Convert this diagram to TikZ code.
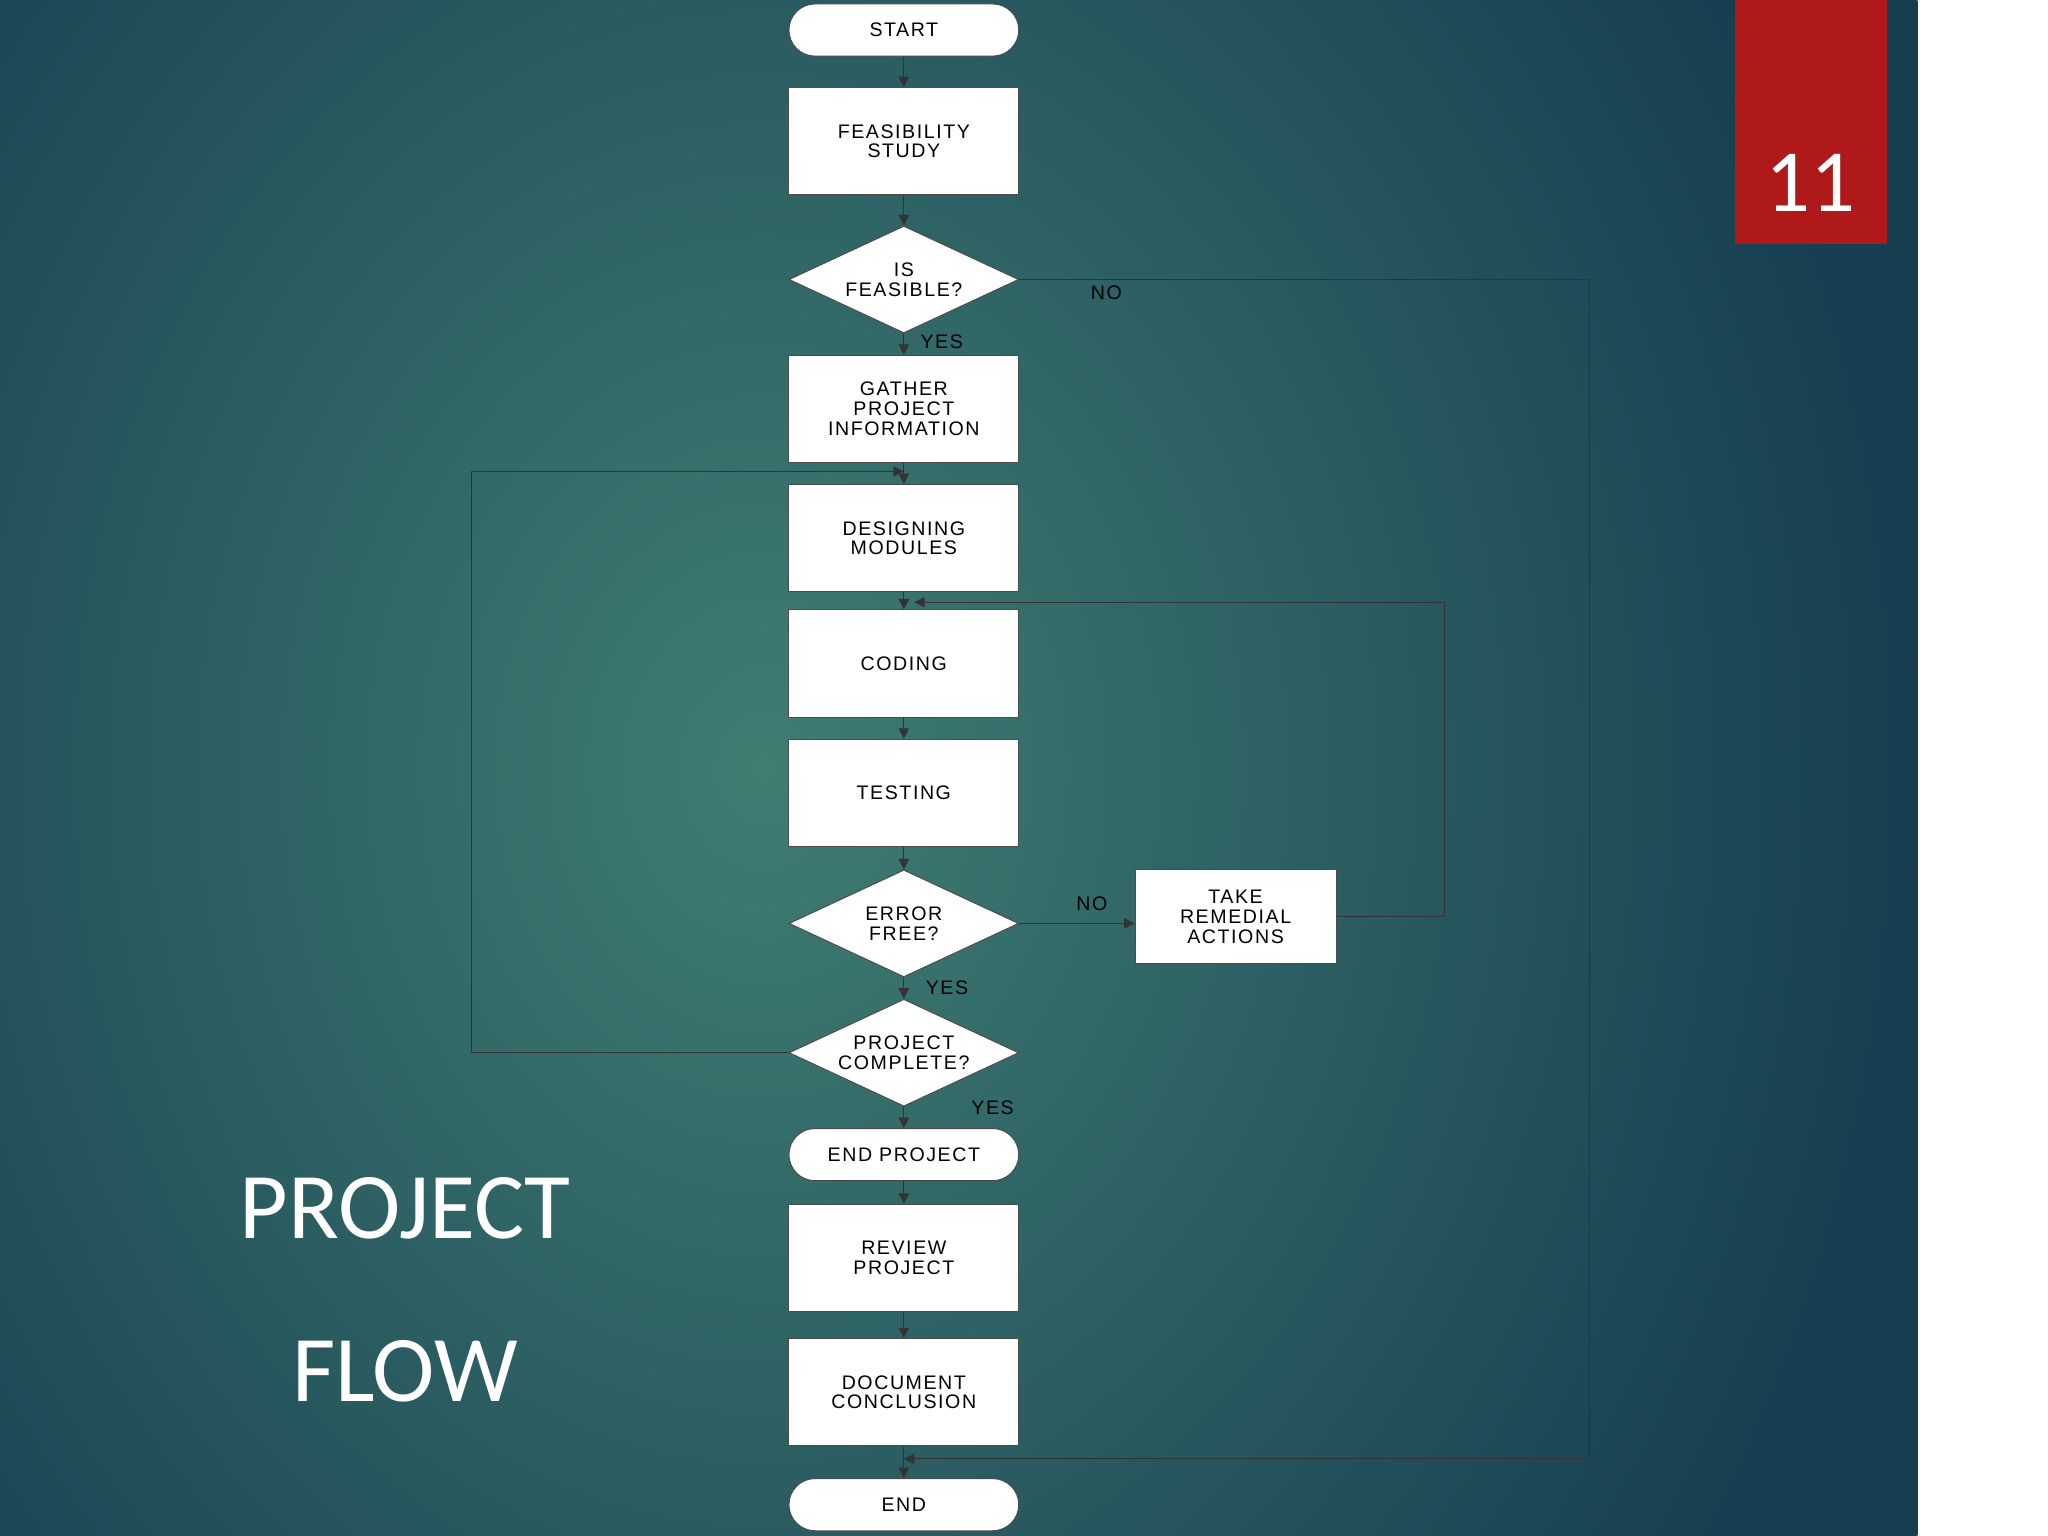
\documentclass[tikz,border=0pt]{standalone}
\usepackage{fontspec}
\setmainfont{Liberation Sans}[LetterSpace=8]
\newfontfamily\titlefont{Carlito}
\usetikzlibrary{shapes.geometric,arrows.meta}
\definecolor{bgin}{RGB}{64,125,115}
\definecolor{bgout}{RGB}{22,62,80}
\definecolor{redbox}{RGB}{175,25,25}
\begin{document}
\begin{tikzpicture}[x=0.5pt,y=-0.5pt,
  box/.style={draw=black!70,fill=white,minimum width=88pt,minimum height=41pt,align=center,font=\fontsize{7.5}{7.5}\selectfont,inner sep=0pt},
  term/.style={draw=black!70,fill=white,rounded corners=10pt,minimum width=88pt,minimum height=20pt,align=center,font=\fontsize{7.5}{7.5}\selectfont,inner sep=0pt},
  dia/.style={draw=black!70,fill=white,diamond,aspect=2.15,minimum width=88pt,minimum height=41pt,align=center,font=\fontsize{7.5}{7.5}\selectfont,inner sep=0pt},
  lab/.style={font=\fontsize{7.5}{7.5}\selectfont,text=black},
  ln/.style={draw=black!80,line width=0.4pt},
  arr/.style={ln,-{Triangle[length=4pt,width=4pt]}}]
\useasboundingbox (0,0) rectangle (1568,1176);
\clip (0,0) rectangle (1568,1176);
\shade[inner color=bgin,outer color=bgout] (-300,-500) rectangle (1468,1676);
\fill[redbox] (1328,0) rectangle (1445,187);
\node[text=white,font=\titlefont\fontsize{34}{34}\selectfont] (num) at (1386,140) {11};
\node[text=white,font=\titlefont\fontsize{36}{36}\selectfont] (t1) at (310,925) {PROJECT};
\node[text=white,font=\titlefont\fontsize{36}{36}\selectfont] (t2) at (310,1050) {FLOW};

\node[term] (start) at (692,23) {START};
\node[box] (feas) at (692,108) {FEASIBILITY\\STUDY};
\node[dia] (isf) at (692,214) {IS\\FEASIBLE?};
\node[box] (gath) at (692,313) {GATHER\\PROJECT\\INFORMATION};
\node[box] (des) at (692,412) {DESIGNING\\MODULES};
\node[box] (cod) at (692,508) {CODING};
\node[box] (tst) at (692,607) {TESTING};
\node[dia] (err) at (692,707) {ERROR\\FREE?};
\node[dia] (pc) at (692,806) {PROJECT\\COMPLETE?};
\node[term] (endp) at (692,884) {END PROJECT};
\node[box] (rev) at (692,963) {REVIEW\\PROJECT};
\node[box] (doc) at (692,1066) {DOCUMENT\\CONCLUSION};
\node[term] (end) at (692,1152) {END};
\node[box,minimum width=77pt,minimum height=36pt] (rem) at (946,702) {TAKE\\REMEDIAL\\ACTIONS};

\draw[arr] (start) -- (feas);
\draw[arr] (feas) -- (isf);
\draw[arr] (isf) -- (gath);
\draw[arr] (gath) -- (des);
\draw[arr] (des) -- (cod);
\draw[arr] (cod) -- (tst);
\draw[arr] (tst) -- (err);
\draw[arr] (err) -- (pc);
\draw[arr] (pc) -- (endp);
\draw[arr] (endp) -- (rev);
\draw[arr] (rev) -- (doc);
\draw[arr] (doc) -- (end);
\draw[arr] (err.east) -- (err.east -| rem.west);
\coordinate (j1) at (692,1117);
\coordinate (j2) at (692,361);
\coordinate (j3) at (700,461);
\draw[arr] (isf.east) -- (1217,214) -- (1217,1117) -- (j1);
\draw[arr] (pc.west) -- (361,806) -- (361,361) -- (j2);
\draw[arr] (rem.east) -- (1106,702) -- (1106,461) -- (j3);

\node[lab] (n1) at (847,224) {NO};
\node[lab] (y1) at (721,262) {YES};
\node[lab] (n2) at (836,692) {NO};
\node[lab] (y2) at (725,756) {YES};
\node[lab] (y3) at (760,848) {YES};
\end{tikzpicture}
\end{document}
